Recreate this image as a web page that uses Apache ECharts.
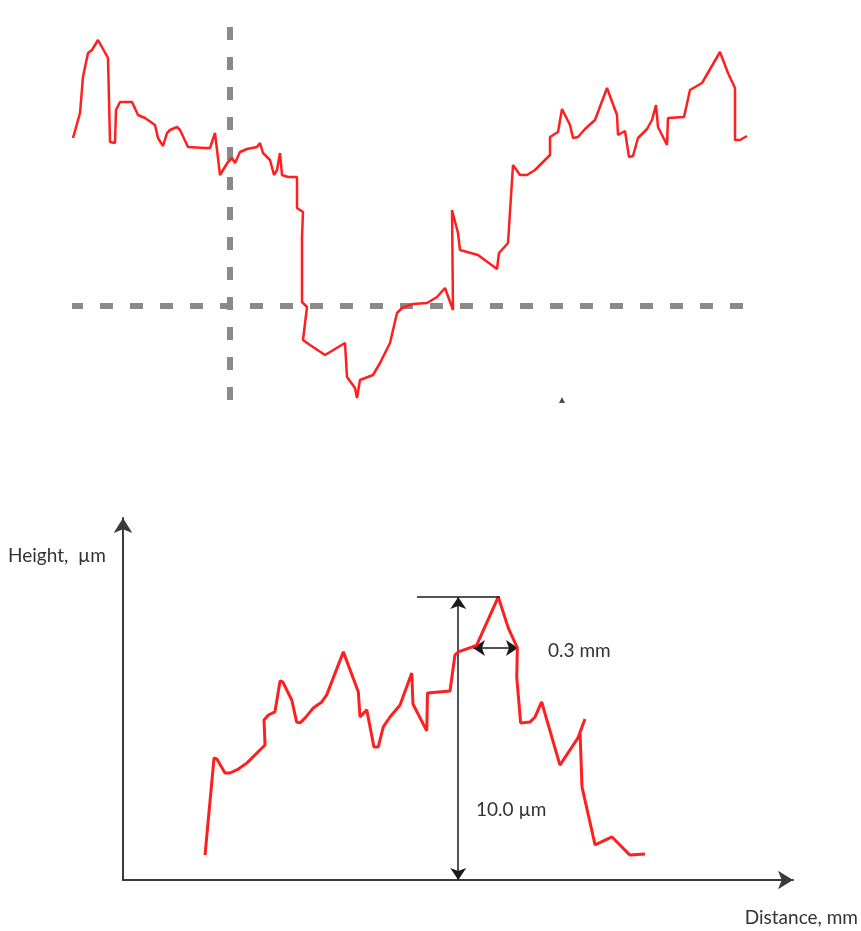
<!DOCTYPE html>
<html>
<head>
<meta charset="utf-8">
<script src="https://cdn.jsdelivr.net/npm/echarts@6/dist/echarts.min.js"></script>
<style>
  html, body { margin: 0; padding: 0; background: #fff; }
  #chart { width: 861px; height: 931px; }
</style>
</head>
<body>
<div id="chart"></div>
<script>
// Upper panel: measured surface profile (distance in mm, height in µm)
const profileDist = [0.01, 0.08, 0.11, 0.12, 0.16, 0.20, 0.26, 0.28, 0.36, 0.38, 0.43, 0.44, 0.48, 0.60, 0.66, 0.73, 0.83, 0.86, 0.91, 0.95,
  0.98, 1.05, 1.08, 1.16, 1.33, 1.38, 1.43, 1.48, 1.51, 1.56, 1.60, 1.63, 1.68, 1.75, 1.85, 1.88, 1.91, 1.98, 2.02, 2.05,
  2.08, 2.10, 2.16, 2.25, 2.25, 2.31, 2.30, 2.30, 2.35, 2.31, 2.38, 2.53, 2.73, 2.75, 2.83, 2.85, 2.88, 3.01, 3.08, 3.18,
  3.25, 3.30, 3.41, 3.55, 3.65, 3.73, 3.81, 3.80, 3.86, 3.88, 4.06, 4.25, 4.27, 4.36, 4.41, 4.48, 4.55, 4.63, 4.78, 4.78,
  4.86, 4.90, 4.98, 5.01, 5.06, 5.13, 5.23, 5.35, 5.45, 5.46, 5.53, 5.57, 5.61, 5.66, 5.75, 5.80, 5.84, 5.86, 5.95, 5.96,
  6.12, 6.18, 6.30, 6.48, 6.56, 6.63, 6.63, 6.68, 6.75];
const profileHeight = [26.2, 28.7, 32.3, 32.8, 34.7, 35.0, 36.0, 35.8, 34.2, 25.8, 25.7, 29.0, 29.8, 29.8, 28.5, 28.2, 27.5, 26.2, 25.4, 26.7,
  27.0, 27.3, 27.0, 25.3, 25.2, 25.2, 26.7, 22.5, 23.0, 23.8, 24.2, 23.7, 24.8, 25.1, 25.3, 25.7, 24.7, 24.0, 22.5, 23.0,
  24.7, 22.5, 22.3, 22.3, 19.2, 18.8, 16.3, 9.8, 9.3, 6.0, 5.5, 4.5, 5.7, 2.3, 1.2, 0.2, 2.0, 2.5, 3.7, 5.7,
  8.7, 9.2, 9.6, 9.7, 10.3, 11.2, 9.0, 19.0, 16.7, 15.0, 14.5, 13.1, 14.7, 15.7, 23.5, 22.5, 22.5, 23.0, 24.5, 26.3,
  26.8, 29.1, 27.5, 26.2, 26.3, 27.1, 28.0, 31.2, 28.5, 26.5, 26.9, 24.3, 24.4, 26.2, 27.1, 28.0, 29.5, 27.3, 25.5, 28.2,
  28.3, 31.0, 31.7, 34.8, 32.7, 31.2, 26.0, 26.0, 26.4];

// Crosshair guides in the upper panel
const guideV = { dist: 1.58, heights: [0, 39] };
const guideH = { height: 9.4, dists: [0, 6.76] };
const markerPoint = [4.90, 0.0];

// Lower panel: extracted peak profile (distance in mm, height in µm)
const peakDist = [0.547, 0.558, 0.607, 0.625, 0.680, 0.713, 0.769, 0.825, 0.947, 0.940, 0.969, 1.013, 1.047, 1.065, 1.125, 1.158, 1.180, 1.213,
  1.269, 1.325, 1.358, 1.469, 1.569, 1.580, 1.625, 1.673, 1.702, 1.735, 1.780, 1.847, 1.925, 1.933, 2.025, 2.030, 2.180, 2.213,
  2.235, 2.325, 2.358, 2.502, 2.569, 2.629, 2.625, 2.651, 2.713, 2.747, 2.791, 2.913, 3.033, 3.080, 3.047, 3.060, 3.147, 3.260,
  3.380, 3.480];
const peakHeight = [0.88, 1.52, 4.31, 4.28, 3.78, 3.78, 3.92, 4.13, 4.77, 5.65, 5.83, 5.94, 7.03, 7.00, 6.36, 5.58, 5.55, 5.72,
  6.08, 6.29, 6.54, 8.06, 6.64, 5.76, 6.01, 4.70, 4.70, 5.41, 5.76, 6.18, 7.31, 6.22, 5.27, 6.61, 6.68, 7.95,
  8.06, 8.23, 8.30, 10.0, 8.90, 8.20, 7.17, 5.55, 5.58, 5.76, 6.29, 4.06, 5.02, 5.69, 5.23, 3.29, 1.24, 1.52,
  0.88, 0.92];

// Dimension annotations
const peakHeightValue = 10.0;           // µm
const peakWidthValue = 0.3;             // mm
const heightArrowX = 2.235;
const topRefLine = [1.96, 2.513];
const widthArrow = { start: 2.333, level: 8.2 };

const zip = (xs, ys) => xs.map((x, i) => [x, ys[i]]);

const chart = echarts.init(document.getElementById('chart'), null, { renderer: 'canvas' });

const hiddenAxis = { show: false };
const arrowAxisLine = {
  show: true,
  symbol: ['none', 'arrow'],
  symbolSize: [14, 15],
  lineStyle: { color: '#3a3a3a', width: 2 }
};
const labelFont = '19px Lato';

const option = {
  animation: false,
  backgroundColor: '#ffffff',
  grid: [
    { left: 72, top: 10, width: 676, height: 390 },
    { left: 123, top: 518, width: 670, height: 362 }
  ],
  xAxis: [
    Object.assign({ gridIndex: 0, type: 'value', min: 0, max: 6.76 }, hiddenAxis),
    {
      gridIndex: 1, type: 'value', min: 0, max: 4.4667,
      axisLine: arrowAxisLine, axisTick: { show: false }, axisLabel: { show: false }, splitLine: { show: false }
    }
  ],
  yAxis: [
    Object.assign({ gridIndex: 0, type: 'value', min: 0, max: 39 }, hiddenAxis),
    {
      gridIndex: 1, type: 'value', min: 0, max: 12.79,
      axisLine: arrowAxisLine, axisTick: { show: false }, axisLabel: { show: false }, splitLine: { show: false }
    }
  ],
  series: [
    {
      name: 'guide-v', type: 'line', xAxisIndex: 0, yAxisIndex: 0, symbol: 'none',
      data: guideV.heights.map(h => [guideV.dist, h]),
      lineStyle: { color: '#8a8a8a', width: 6, type: [13, 17] }
    },
    {
      name: 'guide-h', type: 'line', xAxisIndex: 0, yAxisIndex: 0, symbol: 'none',
      data: guideH.dists.map(d => [d, guideH.height]),
      lineStyle: { color: '#8a8a8a', width: 6, type: [13, 17], dashOffset: 2 }
    },
    {
      name: 'profile', type: 'line', xAxisIndex: 0, yAxisIndex: 0, symbol: 'none',
      data: zip(profileDist, profileHeight),
      lineStyle: { color: '#ff1f1f', width: 2.5 }
    },
    {
      name: 'marker', type: 'scatter', xAxisIndex: 0, yAxisIndex: 0,
      symbol: 'triangle', symbolSize: 6,
      itemStyle: { color: '#222' },
      data: [markerPoint]
    },
    {
      name: 'peak', type: 'line', xAxisIndex: 1, yAxisIndex: 1, symbol: 'none',
      data: zip(peakDist, peakHeight),
      lineStyle: { color: '#ff1f1f', width: 3 }
    },
    {
      name: 'top-ref', type: 'line', xAxisIndex: 1, yAxisIndex: 1, symbol: 'none',
      data: topRefLine.map(x => [x, peakHeightValue]),
      lineStyle: { color: '#1a1a1a', width: 1.5 }
    },
    {
      name: 'dimensions', type: 'lines', coordinateSystem: 'cartesian2d', xAxisIndex: 1, yAxisIndex: 1,
      symbol: ['arrow', 'arrow'], symbolSize: 12,
      lineStyle: { color: '#1a1a1a', width: 1.5, opacity: 1 },
      data: [
        { coords: [[heightArrowX, 0], [heightArrowX, peakHeightValue]] },
        { coords: [[widthArrow.start, widthArrow.level], [widthArrow.start + peakWidthValue, widthArrow.level]] }
      ]
    }
  ],
  graphic: [
    { type: 'text', x: 8, y: 556, style: { text: 'Height,  µm', font: labelFont, fill: '#333', align: 'left', verticalAlign: 'middle' } },
    { type: 'text', x: 858, y: 918, style: { text: 'Distance, mm', font: labelFont, fill: '#333', align: 'right', verticalAlign: 'middle' } },
    { type: 'text', x: 548, y: 651, style: { text: peakWidthValue.toFixed(1) + ' mm', font: labelFont, fill: '#333', align: 'left', verticalAlign: 'middle' } },
    { type: 'text', x: 476, y: 810, style: { text: peakHeightValue.toFixed(1) + ' µm', font: labelFont, fill: '#333', align: 'left', verticalAlign: 'middle' } }
  ]
};

chart.setOption(option);
</script>
</body>
</html>
